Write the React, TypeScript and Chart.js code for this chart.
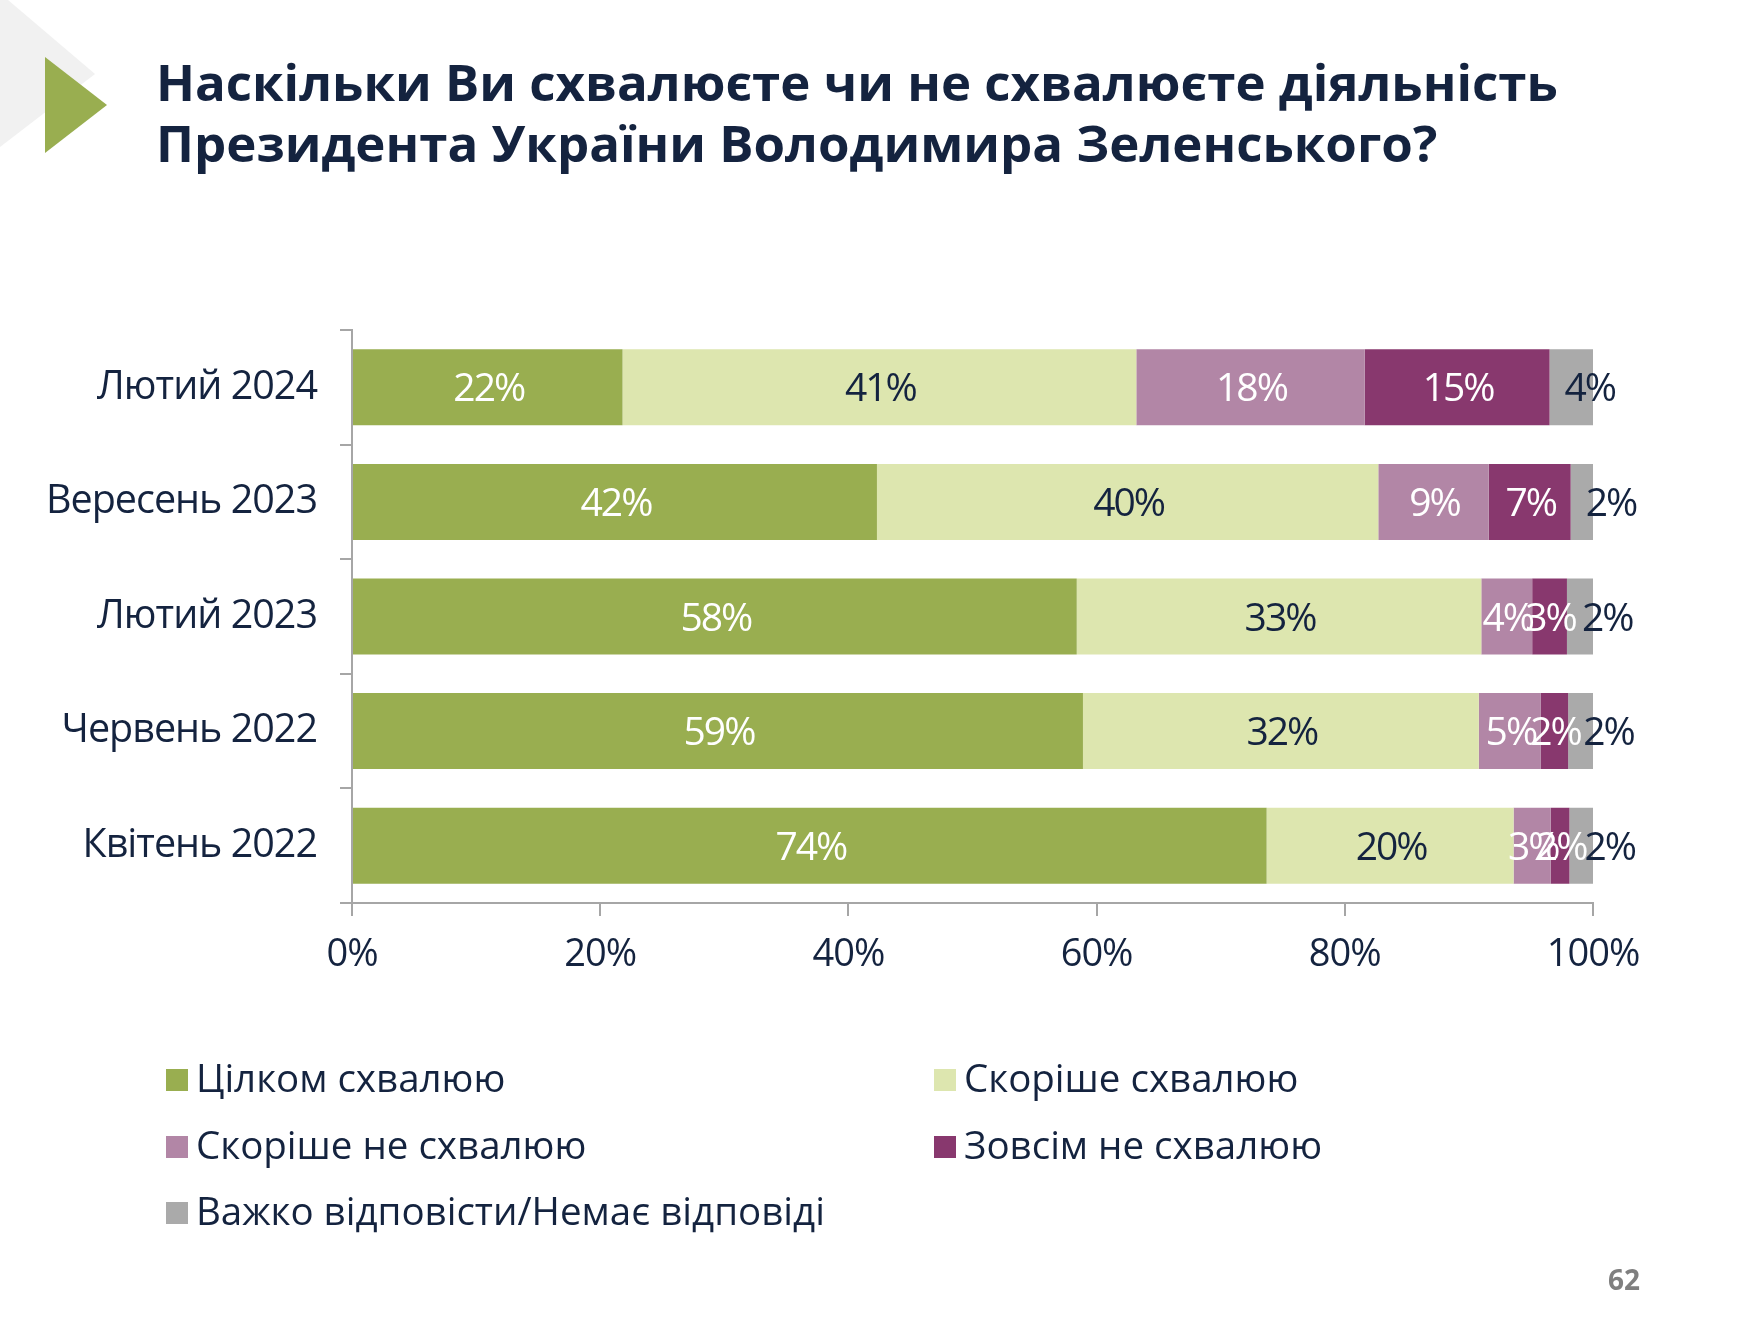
import React, { useEffect, useRef } from "react";
import { Chart, registerables } from "chart.js";

Chart.register(...registerables);

const titleLines = [
  "Наскільки Ви схвалюєте чи не схвалюєте діяльність",
  "Президента України Володимира Зеленського?",
];
const categories = ["Лютий 2024", "Вересень 2023", "Лютий 2023", "Червень 2022", "Квітень 2022"];
const fullyApprove = [21.8, 42.3, 58.4, 58.9, 73.7];
const ratherApprove = [41.4, 40.4, 32.6, 31.9, 19.9];
const ratherDisapprove = [18.4, 8.9, 4.1, 5.0, 3.0];
const fullyDisapprove = [14.9, 6.6, 2.8, 2.2, 1.5];
const hardToSay = [3.5, 1.8, 2.1, 2.0, 1.9];
const seriesNames = [
  "Цілком схвалюю",
  "Скоріше схвалюю",
  "Скоріше не схвалюю",
  "Зовсім не схвалюю",
  "Важко відповісти/Немає відповіді",
];
const seriesColors = ["#99AE50", "#DDE6AF", "#B286A6", "#88386E", "#AAAAAA"];
const labelColors = ["#FFFFFF", "#14233F", "#FFFFFF", "#FFFFFF", "#14233F"];
const xTicks = [0, 20, 40, 60, 80, 100];
const pageNumber = "62";

const FONT = "'Open Sans', 'Noto Sans', sans-serif";
const NAVY = "#14233F";
const AXIS = "#A6A6A6";

const spacingPlugin = {
  id: "spacing",
  beforeDraw(chart: any) {
    chart.ctx.letterSpacing = "-1px";
  },
};

const labelPlugin = {
  id: "segLabels",
  afterDatasetsDraw(chart: any) {
    const ctx = chart.ctx;
    ctx.save();
    ctx.font = `39px ${FONT}`;
    ctx.letterSpacing = "-2px";
    ctx.textBaseline = "middle";
    chart.data.datasets.forEach((ds: any, di: number) => {
      const meta = chart.getDatasetMeta(di);
      meta.data.forEach((el: any, i: number) => {
        const v = ds.data[i];
        const txt = Math.round(v) + "%";
        const start = Math.min(el.base, el.x);
        const end = Math.max(el.base, el.x);
        ctx.fillStyle = labelColors[di];
        if (di === 4) {
          ctx.textAlign = "left";
          ctx.fillText(txt, start + 15, el.y + 3);
        } else {
          ctx.textAlign = "center";
          ctx.fillText(txt, (start + end) / 2 + 1, el.y + 3);
        }
      });
    });
    ctx.restore();
  },
};

function ChartCanvas() {
  const ref = useRef<HTMLCanvasElement | null>(null);
  useEffect(() => {
    if (!ref.current) return;
    const allSeries = [fullyApprove, ratherApprove, ratherDisapprove, fullyDisapprove, hardToSay];
    const chart = new Chart(ref.current, {
      type: "bar",
      data: {
        labels: categories,
        datasets: allSeries.map((d, i) => ({
          label: seriesNames[i],
          data: d,
          backgroundColor: seriesColors[i],
          borderWidth: 0,
          barPercentage: 0.663,
          categoryPercentage: 1,
        })),
      },
      options: {
        indexAxis: "y",
        responsive: false,
        animation: false,
        devicePixelRatio: 1,
        layout: { padding: { top: 330, left: 0, right: 167, bottom: 317 } },
        plugins: { legend: { display: false }, tooltip: { enabled: false }, title: { display: false } },
        scales: {
          x: {
            stacked: true,
            min: 0,
            max: 100,
            afterFit: (s: any) => {
              s.height = 100;
            },
            afterBuildTicks: (s: any) => {
              s.ticks = xTicks.map((v) => ({ value: v }));
            },
            ticks: {
              color: NAVY,
              font: { family: FONT, size: 38 },
              padding: 16,
              callback: (v: any) => v + "%",
            },
            grid: { drawOnChartArea: false, color: AXIS, tickLength: 13, lineWidth: 2 },
            border: { color: AXIS, width: 2 },
          },
          y: {
            stacked: true,
            afterFit: (s: any) => {
              s.width = 352;
            },
            ticks: {
              color: NAVY,
              font: { family: FONT, size: 39.5 },
              padding: 23,
            },
            grid: { drawOnChartArea: false, offset: true, color: AXIS, tickLength: 12, lineWidth: 2 },
            border: { color: AXIS, width: 2 },
          },
        },
      },
      plugins: [spacingPlugin, labelPlugin],
    } as any);
    return () => chart.destroy();
  }, []);
  return (
    <canvas
      ref={ref}
      width={1760}
      height={1320}
      style={{ position: "absolute", left: 0, top: 0, width: 1760, height: 1320 }}
    />
  );
}

export default function App() {
  const legendPos = [
    [166, 1069],
    [934, 1069],
    [166, 1136],
    [934, 1136],
    [166, 1202],
  ];
  return (
    <div
      style={{
        position: "absolute",
        left: 0,
        top: 0,
        width: 1760,
        height: 1320,
        background: "#FFFFFF",
        overflow: "hidden",
        fontFamily: FONT,
      }}
    >
      <svg width={1760} height={1320} style={{ position: "absolute", left: 0, top: 0 }}>
        <polygon points="0,0 8,0 95,74 0,147" fill="#F1F1F1" />
        <polygon points="45,57 107,105 45,153" fill="#99AE50" />
      </svg>
      <ChartCanvas />
      {titleLines.map((t, i) => (
        <div
          key={i}
          style={{
            position: "absolute",
            left: 156,
            top: 51 + i * 61,
            fontSize: 51,
            fontWeight: 700,
            color: NAVY,
            lineHeight: "60px",
            whiteSpace: "nowrap",
          }}
        >
          {t}
        </div>
      ))}
      {seriesNames.map((n, i) => (
        <div
          key={n}
          style={{
            position: "absolute",
            left: legendPos[i][0],
            top: legendPos[i][1] - 21,
            height: 58,
            display: "flex",
            alignItems: "center",
          }}
        >
          <div style={{ width: 22, height: 22, background: seriesColors[i], marginRight: 8, marginTop: 6 }} />
          <span style={{ fontSize: 38.5, color: NAVY, whiteSpace: "nowrap" }}>{n}</span>
        </div>
      ))}
      <div
        style={{
          position: "absolute",
          left: 1608,
          top: 1260,
          fontSize: 28,
          fontWeight: 700,
          color: "#7F7F7F",
        }}
      >
        {pageNumber}
      </div>
    </div>
  );
}
